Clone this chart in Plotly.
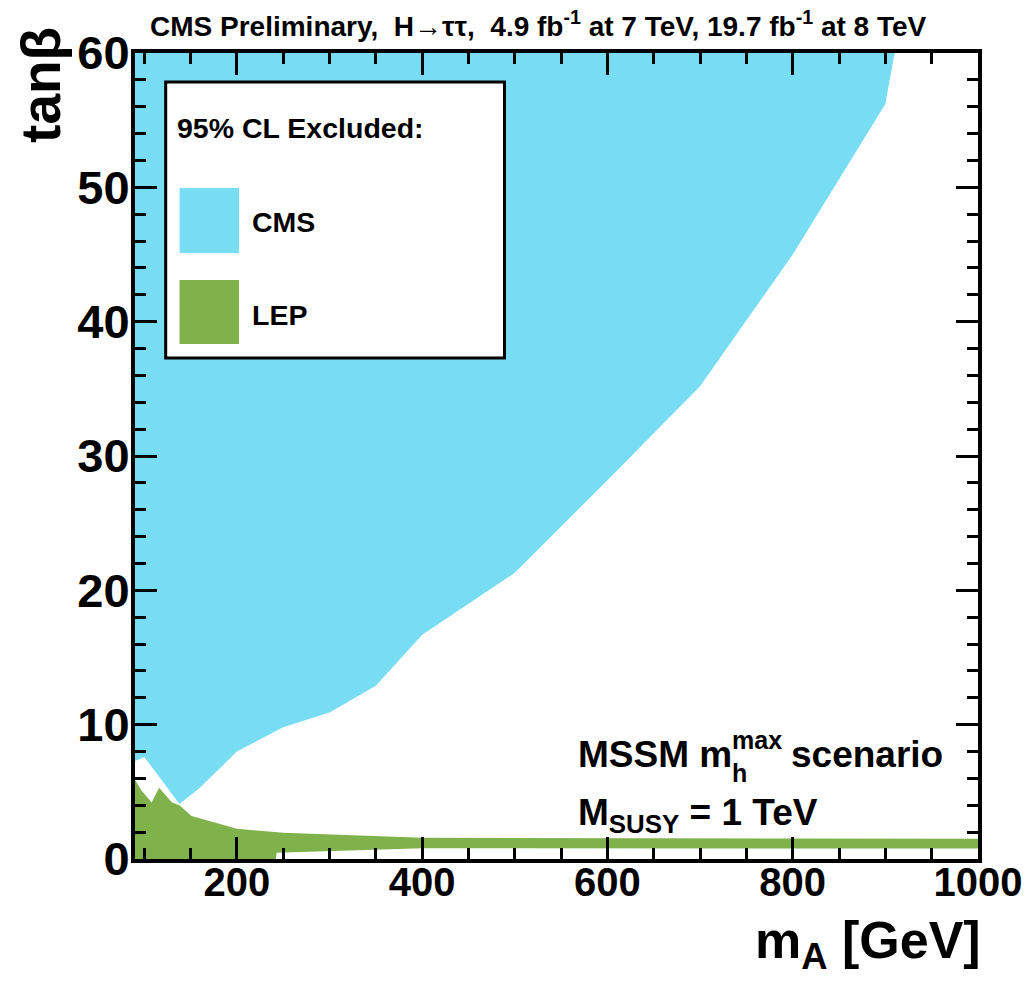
import plotly.graph_objects as go

# ---------------- data ----------------
X_RANGE = [90, 1000]
Y_RANGE = [0, 60]

# CMS 95% CL excluded region: lower boundary (region extends up to tanb = 60)
cms_mA = [90, 100, 138, 160, 200, 250, 300, 350, 400, 500, 600, 700, 800, 900, 910]
cms_tb = [7.3, 7.6, 4.1, 5.3, 8.0, 9.8, 10.9, 12.9, 16.7, 21.3, 28.2, 35.2, 45.0, 56.2, 60.0]

# LEP excluded region: upper and lower boundaries
lep_mA_up = [90, 97, 108, 116, 130, 138, 151, 200, 250, 400, 1000]
lep_tb_up = [5.9, 5.1, 4.2, 5.3, 4.2, 4.0, 3.2, 2.25, 1.95, 1.58, 1.5]
lep_mA_lo = [90, 242, 243, 400, 1000]
lep_tb_lo = [0.0, 0.0, 0.47, 0.8, 0.78]

x_major_dtick, x_minor_dtick = 200, 50
y_major_dtick, y_minor_dtick = 10, 2

CYAN = "#78DDF3"
GREEN = "#80B24C"

FONT = "Liberation Sans, Arial, Helvetica, sans-serif"

# ---------------- layout geometry ----------------
W, H = 1034, 981
L, R, T, B = 135, 48, 53, 122
PW, PH = W - L - R, H - T - B


def px(x):
    return (x - L) / PW


def py(y):
    return (H - B - y) / PH


fig = go.Figure()

# CMS region: boundary, then close along the top of the frame
fig.add_trace(go.Scatter(
    x=cms_mA + [X_RANGE[0]], y=cms_tb + [Y_RANGE[1]],
    fill="toself", fillcolor=CYAN, mode="lines", line=dict(width=0, color=CYAN),
    hoverinfo="skip", showlegend=False, name="CMS"))

# LEP region
fig.add_trace(go.Scatter(
    x=lep_mA_up + lep_mA_lo[::-1], y=lep_tb_up + lep_tb_lo[::-1],
    fill="toself", fillcolor=GREEN, mode="lines", line=dict(width=0, color=GREEN),
    hoverinfo="skip", showlegend=False, name="LEP"))

axis_common = dict(
    showgrid=False, zeroline=False, showline=True, linewidth=4, linecolor="black",
    mirror="ticks", ticks="inside", ticklen=22, tickwidth=3, tickcolor="black",
)

fig.update_xaxes(range=X_RANGE, tick0=0, dtick=x_major_dtick,
                 tickfont=dict(family=FONT, size=40, color="black", weight="bold"),
                 ticklabelstandoff=-15,
                 minor=dict(ticks="inside", tick0=0, dtick=x_minor_dtick, ticklen=11,
                            tickwidth=3, tickcolor="black"),
                 **axis_common)
fig.update_yaxes(range=Y_RANGE, tick0=0, dtick=y_major_dtick,
                 tickfont=dict(family=FONT, size=47, color="black", weight="bold"),
                 ticklabelstandoff=-8,
                 minor=dict(ticks="inside", tick0=0, dtick=y_minor_dtick, ticklen=11,
                            tickwidth=3, tickcolor="black"),
                 **axis_common)

ann = []
# Title
ann.append(dict(x=px(148), y=py(24), xref="paper", yref="paper", xanchor="left", yanchor="middle",
                text="CMS Preliminary,\u00a0\u00a0H\u2192\u03c4\u03c4,\u00a0\u00a04.9 fb<sup>-1</sup> at 7 TeV, 19.7 fb<sup>-1</sup> at 8 TeV",
                showarrow=False, font=dict(family=FONT, size=28, color="black", weight="bold")))
# Axis titles
ann.append(dict(x=px(991), y=py(944), xref="paper", yref="paper", xanchor="right", yanchor="middle",
                text="m<sub>A</sub> [GeV]", showarrow=False,
                font=dict(family=FONT, size=52, color="black", weight="bold")))
ann.append(dict(x=px(40), y=py(85), xref="paper", yref="paper", xanchor="center", yanchor="middle",
                text="tan\u03b2", textangle=-90, showarrow=False,
                font=dict(family=FONT, size=55, color="black", weight="bold")))

# Scenario text
ann.append(dict(x=px(580), y=py(754), xref="paper", yref="paper", xanchor="left", yanchor="middle",
                text="MSSM m", showarrow=False, font=dict(family=FONT, size=37, color="black", weight="bold")))
ann.append(dict(x=px(736), y=py(740), xref="paper", yref="paper", xanchor="left", yanchor="middle",
                text="max", showarrow=False, font=dict(family=FONT, size=25, color="black", weight="bold")))
ann.append(dict(x=px(736), y=py(773), xref="paper", yref="paper", xanchor="left", yanchor="middle",
                text="h", showarrow=False, font=dict(family=FONT, size=25, color="black", weight="bold")))
ann.append(dict(x=px(795), y=py(754), xref="paper", yref="paper", xanchor="left", yanchor="middle",
                text="scenario", showarrow=False, font=dict(family=FONT, size=37, color="black", weight="bold")))
ann.append(dict(x=px(580), y=py(815), xref="paper", yref="paper", xanchor="left", yanchor="middle",
                text="M<sub>SUSY</sub> = 1 TeV", showarrow=False,
                font=dict(family=FONT, size=37, color="black", weight="bold")))

# Legend text
ann.append(dict(x=px(175), y=py(128), xref="paper", yref="paper", xanchor="left", yanchor="middle",
                text="95% CL Excluded:", showarrow=False,
                font=dict(family=FONT, size=28.5, color="black", weight="bold")))
ann.append(dict(x=px(251), y=py(222), xref="paper", yref="paper", xanchor="left", yanchor="middle",
                text="CMS", showarrow=False, font=dict(family=FONT, size=28.5, color="black", weight="bold")))
ann.append(dict(x=px(251), y=py(315), xref="paper", yref="paper", xanchor="left", yanchor="middle",
                text="LEP", showarrow=False, font=dict(family=FONT, size=28.5, color="black", weight="bold")))

shapes = [
    dict(type="rect", xref="paper", yref="paper", x0=px(166), x1=px(508), y0=py(82), y1=py(358),
         fillcolor="white", line=dict(color="black", width=3), layer="above"),
    dict(type="rect", xref="paper", yref="paper", x0=px(180), x1=px(240), y0=py(188), y1=py(253),
         fillcolor=CYAN, line=dict(width=0), layer="above"),
    dict(type="rect", xref="paper", yref="paper", x0=px(180), x1=px(240), y0=py(280), y1=py(344),
         fillcolor=GREEN, line=dict(width=0), layer="above"),
]

fig.update_layout(
    width=W, height=H, autosize=False,
    margin=dict(l=L, r=R, t=T, b=B, pad=0),
    paper_bgcolor="white", plot_bgcolor="white",
    showlegend=False, annotations=ann, shapes=shapes,
)

fig.write_html("out.html", config={"displayModeBar": False},
               post_script="document.body.style.margin='0';document.body.style.overflow='hidden';")
